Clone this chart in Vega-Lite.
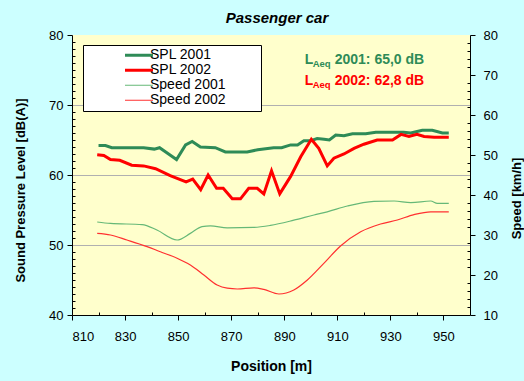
{
  "$schema": "https://vega.github.io/schema/vega-lite/v6.json",
  "width": 398,
  "height": 280,
  "autosize": {"type": "none"},
  "padding": {"left": 72, "top": 35, "right": 54, "bottom": 66},
  "background": "#ccffff",
  "config": {
    "view": {"fill": "#ffffcc", "stroke": null},
    "font": "Liberation Sans",
    "axis": {
      "domainColor": "#000000",
      "tickColor": "#000000",
      "labelColor": "#000000",
      "labelFontSize": 13,
      "labelFont": "Liberation Sans",
      "titleFont": "Liberation Sans",
      "titleColor": "#000000",
      "titleFontWeight": "bold",
      "labelOverlap": false,
      "grid": false
    }
  },
  "title": {
    "text": "Passenger car",
    "fontSize": 15,
    "fontStyle": "italic",
    "fontWeight": "bold",
    "font": "Liberation Sans",
    "color": "#000000",
    "offset": 3,
    "dx": 6
  },
  "datasets": {
    "spl": [
      {"pos": 820, "level": 64.2, "series": "SPL 2001"},
      {"pos": 822.6, "level": 64.2, "series": "SPL 2001"},
      {"pos": 825, "level": 63.9, "series": "SPL 2001"},
      {"pos": 837, "level": 63.9, "series": "SPL 2001"},
      {"pos": 841, "level": 63.7, "series": "SPL 2001"},
      {"pos": 843, "level": 63.9, "series": "SPL 2001"},
      {"pos": 846, "level": 63.1, "series": "SPL 2001"},
      {"pos": 849.4, "level": 62.2, "series": "SPL 2001"},
      {"pos": 852.8, "level": 64.3, "series": "SPL 2001"},
      {"pos": 855.3, "level": 64.8, "series": "SPL 2001"},
      {"pos": 858.4, "level": 64.0, "series": "SPL 2001"},
      {"pos": 864, "level": 63.9, "series": "SPL 2001"},
      {"pos": 867.8, "level": 63.3, "series": "SPL 2001"},
      {"pos": 876, "level": 63.3, "series": "SPL 2001"},
      {"pos": 880, "level": 63.6, "series": "SPL 2001"},
      {"pos": 886, "level": 63.9, "series": "SPL 2001"},
      {"pos": 889, "level": 63.9, "series": "SPL 2001"},
      {"pos": 892.4, "level": 64.3, "series": "SPL 2001"},
      {"pos": 895, "level": 64.3, "series": "SPL 2001"},
      {"pos": 897.4, "level": 64.9, "series": "SPL 2001"},
      {"pos": 900, "level": 64.9, "series": "SPL 2001"},
      {"pos": 902.4, "level": 65.2, "series": "SPL 2001"},
      {"pos": 905, "level": 65.1, "series": "SPL 2001"},
      {"pos": 907, "level": 65.0, "series": "SPL 2001"},
      {"pos": 909.4, "level": 65.7, "series": "SPL 2001"},
      {"pos": 912.5, "level": 65.6, "series": "SPL 2001"},
      {"pos": 915.7, "level": 65.9, "series": "SPL 2001"},
      {"pos": 920.7, "level": 65.9, "series": "SPL 2001"},
      {"pos": 924.5, "level": 66.1, "series": "SPL 2001"},
      {"pos": 935, "level": 66.1, "series": "SPL 2001"},
      {"pos": 937.7, "level": 66.0, "series": "SPL 2001"},
      {"pos": 942, "level": 66.4, "series": "SPL 2001"},
      {"pos": 945.8, "level": 66.4, "series": "SPL 2001"},
      {"pos": 949.6, "level": 66.0, "series": "SPL 2001"},
      {"pos": 952, "level": 66.0, "series": "SPL 2001"},
      {"pos": 819.5, "level": 62.9, "series": "SPL 2002"},
      {"pos": 822, "level": 62.8, "series": "SPL 2002"},
      {"pos": 824.5, "level": 62.2, "series": "SPL 2002"},
      {"pos": 828, "level": 62.1, "series": "SPL 2002"},
      {"pos": 832.5, "level": 61.4, "series": "SPL 2002"},
      {"pos": 837, "level": 61.3, "series": "SPL 2002"},
      {"pos": 841.5, "level": 60.9, "series": "SPL 2002"},
      {"pos": 847, "level": 59.9, "series": "SPL 2002"},
      {"pos": 853, "level": 59.0, "series": "SPL 2002"},
      {"pos": 855.5, "level": 59.4, "series": "SPL 2002"},
      {"pos": 858.5, "level": 57.9, "series": "SPL 2002"},
      {"pos": 861.3, "level": 60.0, "series": "SPL 2002"},
      {"pos": 864.5, "level": 58.1, "series": "SPL 2002"},
      {"pos": 867, "level": 58.1, "series": "SPL 2002"},
      {"pos": 870.4, "level": 56.6, "series": "SPL 2002"},
      {"pos": 873.5, "level": 56.6, "series": "SPL 2002"},
      {"pos": 876.6, "level": 58.1, "series": "SPL 2002"},
      {"pos": 879.8, "level": 58.1, "series": "SPL 2002"},
      {"pos": 882.3, "level": 57.3, "series": "SPL 2002"},
      {"pos": 885.2, "level": 60.6, "series": "SPL 2002"},
      {"pos": 888.3, "level": 57.3, "series": "SPL 2002"},
      {"pos": 892.4, "level": 59.8, "series": "SPL 2002"},
      {"pos": 896.2, "level": 62.6, "series": "SPL 2002"},
      {"pos": 900.2, "level": 65.1, "series": "SPL 2002"},
      {"pos": 903, "level": 63.8, "series": "SPL 2002"},
      {"pos": 906.2, "level": 61.3, "series": "SPL 2002"},
      {"pos": 908.7, "level": 62.4, "series": "SPL 2002"},
      {"pos": 912.5, "level": 63.0, "series": "SPL 2002"},
      {"pos": 916.3, "level": 63.8, "series": "SPL 2002"},
      {"pos": 920, "level": 64.4, "series": "SPL 2002"},
      {"pos": 925, "level": 65.0, "series": "SPL 2002"},
      {"pos": 930.8, "level": 65.0, "series": "SPL 2002"},
      {"pos": 934, "level": 65.8, "series": "SPL 2002"},
      {"pos": 937, "level": 65.5, "series": "SPL 2002"},
      {"pos": 940, "level": 65.8, "series": "SPL 2002"},
      {"pos": 942.7, "level": 65.5, "series": "SPL 2002"},
      {"pos": 946.5, "level": 65.4, "series": "SPL 2002"},
      {"pos": 952, "level": 65.4, "series": "SPL 2002"}
    ],
    "speed": [
      {"pos": 819.5, "speed": 33.25, "series": "Speed 2001"},
      {"pos": 824.5, "speed": 32.9, "series": "Speed 2001"},
      {"pos": 836.4, "speed": 32.6, "series": "Speed 2001"},
      {"pos": 842, "speed": 31.25, "series": "Speed 2001"},
      {"pos": 849.6, "speed": 28.75, "series": "Speed 2001"},
      {"pos": 854.6, "speed": 30.4, "series": "Speed 2001"},
      {"pos": 859, "speed": 32.1, "series": "Speed 2001"},
      {"pos": 862.2, "speed": 32.3, "series": "Speed 2001"},
      {"pos": 868.5, "speed": 31.8, "series": "Speed 2001"},
      {"pos": 878.5, "speed": 31.9, "series": "Speed 2001"},
      {"pos": 884.8, "speed": 32.4, "series": "Speed 2001"},
      {"pos": 893.6, "speed": 33.7, "series": "Speed 2001"},
      {"pos": 901.2, "speed": 35.0, "series": "Speed 2001"},
      {"pos": 906.2, "speed": 35.8, "series": "Speed 2001"},
      {"pos": 913.8, "speed": 37.25, "series": "Speed 2001"},
      {"pos": 923.8, "speed": 38.4, "series": "Speed 2001"},
      {"pos": 931.4, "speed": 38.5, "series": "Speed 2001"},
      {"pos": 937.7, "speed": 38.1, "series": "Speed 2001"},
      {"pos": 945.2, "speed": 38.5, "series": "Speed 2001"},
      {"pos": 947.7, "speed": 37.9, "series": "Speed 2001"},
      {"pos": 952, "speed": 37.9, "series": "Speed 2001"},
      {"pos": 819.5, "speed": 30.4, "series": "Speed 2002"},
      {"pos": 824.5, "speed": 30.0, "series": "Speed 2002"},
      {"pos": 830.7, "speed": 28.75, "series": "Speed 2002"},
      {"pos": 838.3, "speed": 27.1, "series": "Speed 2002"},
      {"pos": 843.3, "speed": 25.8, "series": "Speed 2002"},
      {"pos": 849.6, "speed": 24.2, "series": "Speed 2002"},
      {"pos": 854.6, "speed": 22.5, "series": "Speed 2002"},
      {"pos": 859.7, "speed": 20.0, "series": "Speed 2002"},
      {"pos": 864.7, "speed": 17.5, "series": "Speed 2002"},
      {"pos": 868.5, "speed": 16.7, "series": "Speed 2002"},
      {"pos": 872.3, "speed": 16.5, "series": "Speed 2002"},
      {"pos": 878.5, "speed": 16.8, "series": "Speed 2002"},
      {"pos": 882.3, "speed": 16.4, "series": "Speed 2002"},
      {"pos": 888, "speed": 15.25, "series": "Speed 2002"},
      {"pos": 893.6, "speed": 16.25, "series": "Speed 2002"},
      {"pos": 898.7, "speed": 18.75, "series": "Speed 2002"},
      {"pos": 904.9, "speed": 22.9, "series": "Speed 2002"},
      {"pos": 911.2, "speed": 27.25, "series": "Speed 2002"},
      {"pos": 918.8, "speed": 30.8, "series": "Speed 2002"},
      {"pos": 926.3, "speed": 32.75, "series": "Speed 2002"},
      {"pos": 932.6, "speed": 33.75, "series": "Speed 2002"},
      {"pos": 938.9, "speed": 35.1, "series": "Speed 2002"},
      {"pos": 945.2, "speed": 35.8, "series": "Speed 2002"},
      {"pos": 952, "speed": 35.8, "series": "Speed 2002"}
    ],
    "ann": [
      {"pos": 897.7, "level": 76.4, "series": "SPL 2001", "text": "2001: 65,0 dB"},
      {"pos": 897.7, "level": 73.4, "series": "SPL 2002", "text": "2002: 62,8 dB"}
    ]
  },
  "encoding": {
    "x": {
      "field": "pos",
      "type": "quantitative",
      "scale": {"domain": [810, 960], "nice": false, "zero": false},
      "axis": {
        "title": "Position [m]",
        "titleFontSize": 14,
        "titleY": 51,
        "titleBaseline": "middle",
        "values": [810, 820, 830, 840, 850, 860, 870, 880, 890, 900, 910, 920, 930, 940, 950],
        "labelExpr": "(datum.value - 810) % 20 === 0 ? datum.label : ''",
        "tickSize": {"condition": {"test": "(datum.value - 810) % 20 === 0", "value": 5}, "value": -3},
        "labelPadding": 10
      }
    }
  },
  "layer": [
    {
      "encoding": {
        "y": {
          "field": "level",
          "type": "quantitative",
          "scale": {"domain": [40, 80], "nice": false, "zero": false},
          "axis": {
            "title": "Sound Pressure Level [dB(A)]",
            "titleFontSize": 13,
            "titleAngle": 270,
            "titleX": -52,
            "titleY": 155,
            "titleAlign": "center",
            "titleBaseline": "middle",
            "values": [40,41,42,43,44,45,46,47,48,49,50,51,52,53,54,55,56,57,58,59,60,61,62,63,64,65,66,67,68,69,70,71,72,73,74,75,76,77,78,79,80],
            "labelExpr": "datum.value % 10 === 0 ? datum.label : ''",
            "tickSize": {"condition": {"test": "datum.value % 10 === 0", "value": 5}, "value": -3},
            "labelPadding": 4,
            "grid": true,
            "gridColor": "#b0b0b0",
            "gridOpacity": {"condition": {"test": "datum.value % 10 === 0 && datum.value > 40 && datum.value < 80", "value": 1}, "value": 0}
          }
        }
      },
      "layer": [
        {
          "data": {"name": "spl"},
          "mark": {"type": "line", "strokeWidth": 3},
          "encoding": {
            "color": {
              "field": "series",
              "type": "nominal",
              "scale": {
                "domain": ["SPL 2001", "SPL 2002", "Speed 2001", "Speed 2002"],
                "range": ["#2e8b57", "#ff0000", "#66b877", "#ff3030"]
              },
              "legend": {
                "orient": "none",
                "legendX": 11,
                "legendY": 10,
                "title": "MM",
                "titleOrient": "right",
                "titleOpacity": 0,
                "titleFontSize": 14,
                "titlePadding": 8,
                "fillColor": "#ffffff",
                "strokeColor": "#000000",
                "padding": 3,
                "symbolType": "stroke",
                "symbolSize": 784,
                "symbolOffset": 46,
                "clipHeight": 14.5,
                "rowPadding": 0,
                "labelFontSize": 14,
                "labelFont": "Liberation Sans",
                "labelColor": "#000000",
                "labelOffset": 4,
                "encode": {
                  "symbols": {
                    "update": {
                      "strokeWidth": {"signal": "(datum.value === 'SPL 2001' || datum.value === 'SPL 2002') ? 3 : 1.2"}
                    }
                  }
                }
              }
            }
          }
        },
        {
          "data": {"name": "ann"},
          "mark": {"type": "text", "text": "L", "align": "left", "baseline": "middle", "fontSize": 14, "fontWeight": "bold", "font": "Liberation Sans"},
          "encoding": {
            "color": {"field": "series", "type": "nominal", "legend": null}
          }
        },
        {
          "data": {"name": "ann"},
          "mark": {"type": "text", "text": "Aeq", "align": "left", "baseline": "middle", "fontSize": 9.5, "fontWeight": "bold", "font": "Liberation Sans", "dx": 8, "dy": 4},
          "encoding": {
            "color": {"field": "series", "type": "nominal", "legend": null}
          }
        },
        {
          "data": {"name": "ann"},
          "mark": {"type": "text", "align": "left", "baseline": "middle", "fontSize": 14, "fontWeight": "bold", "font": "Liberation Sans", "dx": 30},
          "encoding": {
            "text": {"field": "text"},
            "color": {"field": "series", "type": "nominal", "legend": null}
          }
        }
      ]
    },
    {
      "data": {"name": "speed"},
      "mark": {"type": "line", "interpolate": "monotone", "strokeWidth": 1.2},
      "encoding": {
        "y": {
          "field": "speed",
          "type": "quantitative",
          "scale": {"domain": [10, 80], "nice": false, "zero": false},
          "axis": {
            "orient": "right",
            "title": "Speed [km/h]",
            "titleFontSize": 13,
            "titleAngle": 270,
            "titleX": 46,
            "titleY": 163,
            "titleAlign": "center",
            "titleBaseline": "middle",
            "values": [10,12,14,16,18,20,22,24,26,28,30,32,34,36,38,40,42,44,46,48,50,52,54,56,58,60,62,64,66,68,70,72,74,76,78,80],
            "labelExpr": "datum.value % 10 === 0 ? datum.label : ''",
            "tickSize": {"condition": {"test": "datum.value % 10 === 0", "value": 5}, "value": -3},
            "labelPadding": 8,
            "grid": false
          }
        },
        "color": {"field": "series", "type": "nominal"}
      }
    }
  ],
  "resolve": {"scale": {"y": "independent"}}
}
